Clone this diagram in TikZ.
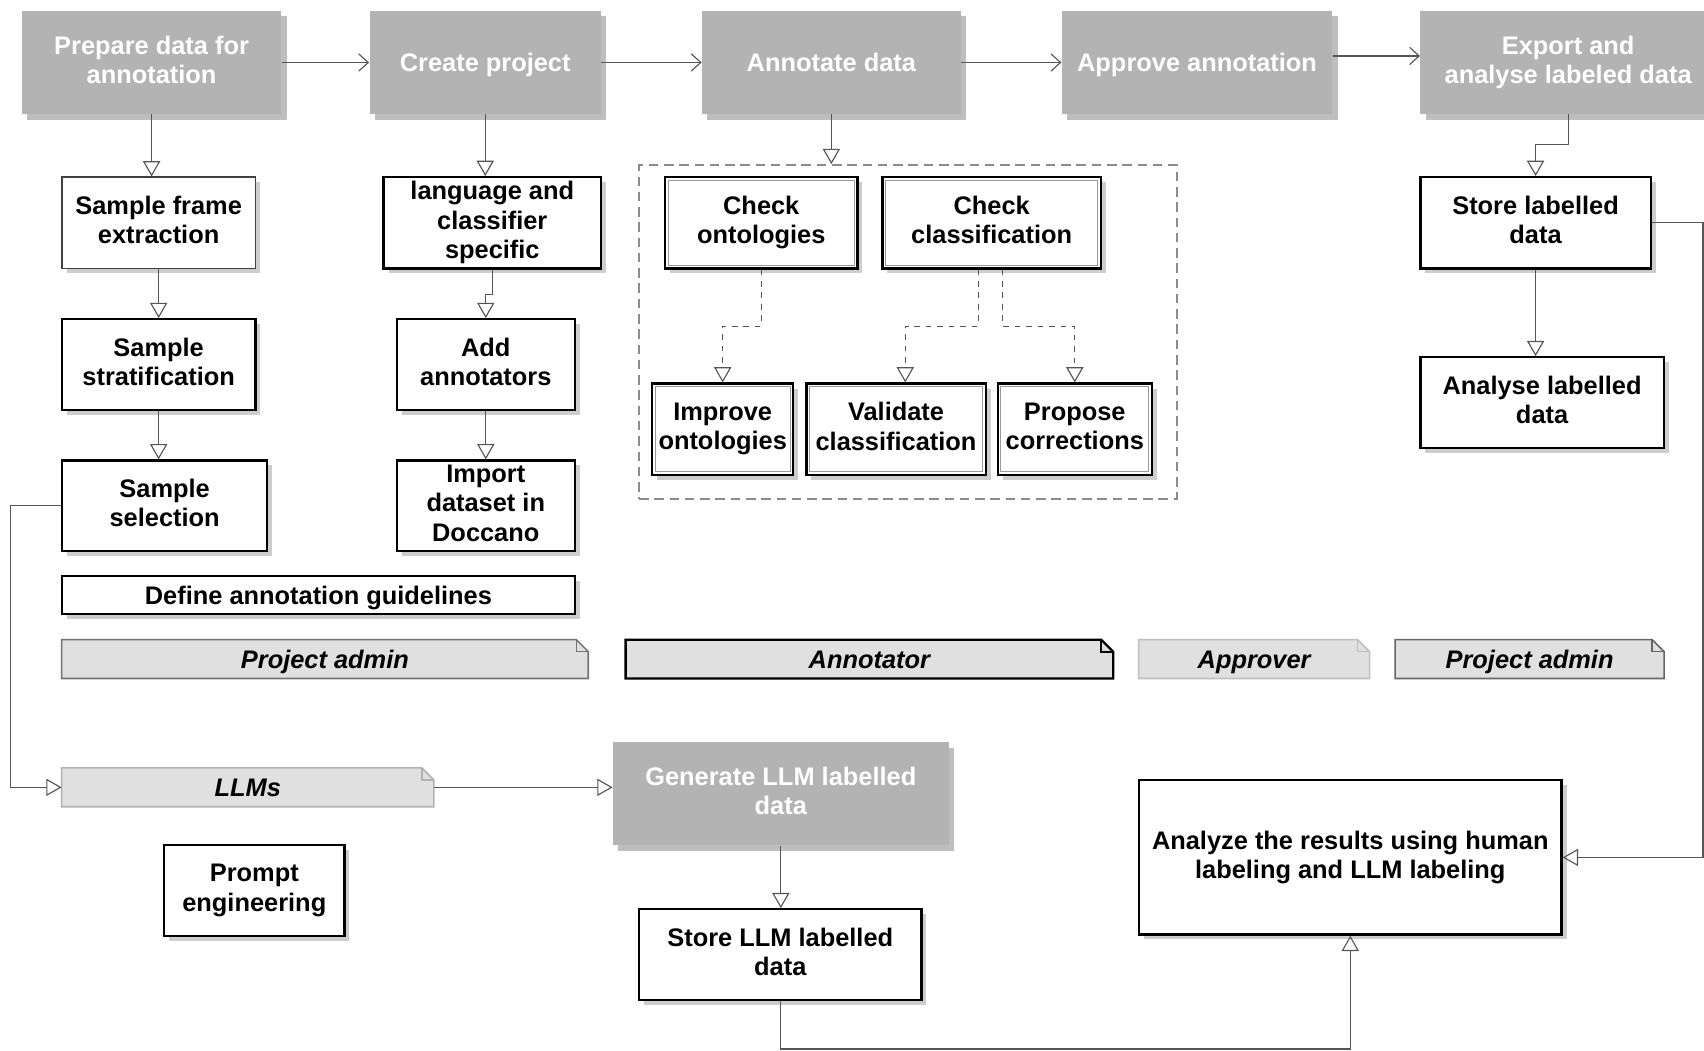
\documentclass[tikz,border=0pt]{standalone}
\usepackage{fontspec}
\setmainfont{Liberation Sans}
\usetikzlibrary{arrows.meta, shadows, backgrounds, calc}

\definecolor{stepgrey}{RGB}{179,179,179}
\definecolor{stepshade}{RGB}{190,190,190}
\definecolor{notegrey}{RGB}{224,224,224}
\definecolor{shadegrey}{RGB}{205,205,205}
\definecolor{linegrey}{RGB}{85,85,85}

\tikzset{
  base/.style={rectangle, align=center, inner sep=1pt, font=\fontsize{13.3}{15.4}\selectfont\bfseries,
    execute at begin node=\rule{0pt}{12.7pt}, execute at end node=\rule[-3pt]{0pt}{3pt}},
  stepbox/.style={base, fill=stepgrey, text=white, minimum height=1.9cm,
    drop shadow={shadow xshift=0.1cm, shadow yshift=-0.1cm, fill=stepshade, opacity=1}},
  taskbox/.style={base, fill=white, draw=black, line width=1.2pt, minimum height=1.67cm,
    drop shadow={shadow xshift=0.09cm, shadow yshift=-0.09cm, fill=shadegrey, opacity=1}},
  thinbox/.style={taskbox, draw=black!75, line width=0.7pt},
  notebox/.style={base, minimum height=0.7cm, font=\fontsize{13.3}{15.4}\selectfont\bfseries\itshape},
  grpbox/.style={rectangle, draw=black!45, line width=1.2pt, dash pattern=on 5pt off 3pt},
  flow/.style={draw=linegrey, line width=0.6pt, -{Straight Barb[length=5pt, width=9pt]}},
  tri/.style={draw=linegrey, line width=0.6pt, -{Triangle[open, length=8pt, width=9pt]}},
  dtri/.style={tri, dashed}
}

\begin{document}
\begin{tikzpicture}[x=0.02cm, y=-0.02cm]
\useasboundingbox (0,0) rectangle (1568,967);

% Main process steps
\node[stepbox, minimum width=4.78cm] (prep) at (139.5,57.5) {Prepare data for\\annotation};
\node[stepbox, minimum width=4.26cm] (create) at (446.5,57.5) {Create project};
\node[stepbox, minimum width=4.76cm] (annot) at (765,57.5) {Annotate data};
\node[stepbox, minimum width=4.98cm] (approve) at (1101.5,57.5) {Approve annotation};
\node[stepbox, minimum width=5.44cm] (export) at (1443,57.5) {Export and\\analyse labeled data};

% Prepare data
\node[thinbox, minimum width=3.56cm, minimum height=1.68cm] (sfe) at (146,205) {Sample frame\\extraction};
\node[taskbox, minimum width=3.56cm] (strat) at (146,335.5) {Sample\\stratification};
\node[taskbox, minimum width=3.78cm] (sel) at (151.5,465.5) {Sample\\selection};
\node[taskbox, minimum width=9.44cm, minimum height=0.7cm] (guide) at (293,547.5) {Define annotation guidelines};

% Create project
\node[taskbox, minimum width=4cm, minimum height=1.68cm] (lang) at (453,205) {language and\\classifier\\specific};
\node[taskbox, minimum width=3.28cm] (add) at (447,335.5) {Add\\annotators};
\node[taskbox, minimum width=3.28cm] (imp) at (447,465.5) {Import\\dataset in\\Doccano};

% Annotate data
\node[grpbox, minimum width=9.9cm, minimum height=6.14cm] (grp) at (835.5,305.5) {};
\node[taskbox, minimum width=3.54cm, minimum height=1.68cm] (chko) at (700.5,205) {Check\\ontologies};
\node[taskbox, minimum width=4.02cm, minimum height=1.68cm] (chkc) at (912.5,205) {Check\\classification};
\node[taskbox, minimum width=2.6cm, minimum height=1.68cm] (impr) at (665,395) {Improve\\ontologies};
\node[taskbox, minimum width=3.3cm, minimum height=1.68cm] (vali) at (824.5,395) {Validate\\classification};
\node[taskbox, minimum width=2.84cm, minimum height=1.68cm] (prop) at (989,395) {Propose\\corrections};

% Export and analyse
\node[taskbox, minimum width=4.24cm, minimum height=1.68cm] (store) at (1413,205) {Store labelled\\data};
\node[taskbox, minimum width=4.48cm] (anal) at (1419,370.5) {Analyse labelled\\data};

% Roles
\node[notebox, minimum width=9.68cm] (padm1) at (299,606.5) {Project admin};
\node[notebox, minimum width=8.96cm] (annr) at (800,606.5) {Annotator};
\node[notebox, minimum width=4.24cm] (appr) at (1154,606.5) {Approver};
\node[notebox, minimum width=4.94cm] (padm2) at (1407.5,606.5) {Project admin};
\node[notebox, minimum width=6.84cm] (llms) at (228,724.5) {LLMs};

% LLM labelling
\node[stepbox, minimum width=6.18cm] (gen) at (718.5,730.5) {Generate LLM labelled\\data};
\node[taskbox, minimum width=5.2cm] (slm) at (718,878.5) {Store LLM labelled\\data};
\node[taskbox, minimum width=3.32cm] (prompt) at (234,819.5) {Prompt\\engineering};
\node[taskbox, minimum width=7.78cm, minimum height=2.84cm] (cmp) at (1242.5,789) {Analyze the results using human\\labeling and LLM labeling};

% inner frames
\foreach \n in {chko,chkc,impr,vali,prop}
  \draw[black!40, line width=0.5pt] ([shift={(0.08cm,-0.08cm)}]\n.north west) rectangle ([shift={(-0.08cm,0.08cm)}]\n.south east);

% note outlines
\begin{scope}[on background layer]
\foreach \n/\c/\w in {padm1/black!55/0.8pt, annr/black/1.2pt, appr/black!25/0.8pt, padm2/black!60/0.8pt, llms/black!30/0.8pt} {
  \draw[draw=\c, line width=\w, fill=notegrey] (\n.south west) -- (\n.north west) -- ([xshift=-0.22cm]\n.north east)
    -- ([yshift=-0.22cm]\n.north east) -- (\n.south east) -- cycle;
  \draw[draw=\c, line width=\w] ([xshift=-0.22cm]\n.north east) |- ([yshift=-0.22cm]\n.north east);
}
\end{scope}

% Flow
\draw[flow] (prep) -- (create);
\draw[flow] (create) -- (annot);
\draw[flow] (annot) -- (approve);
\draw[flow] ($(approve.east)+(0,-6)$) -- ($(export.west)+(0,-6)$);

\draw[tri] (prep.south) -- (prep.south |- sfe.north);
\draw[tri] (sfe) -- (strat);
\draw[tri] (strat.south) -- (strat.south |- sel.north);
\draw[tri] (create.south) -- (create.south |- lang.north);
\draw[tri] (lang.south) -- ++(0,23) -| (add.north);
\draw[tri] (add) -- (imp);
\draw[tri] (annot.south) -- (annot.south |- grp.north);
\draw[dtri] (chko.south) -- ++(0,52) -| (impr.north);
\draw[dtri] ([xshift=-0.25cm]chkc.south) -- ++(0,52) -| ([xshift=0.17cm]vali.north);
\draw[dtri] ([xshift=0.2cm]chkc.south) -- ++(0,52) -| (prop.north);
\draw[tri] (export.south) -- ++(0,28) -| (store.north);
\draw[tri] (store.south) -- (store.south |- anal.north);
\draw[tri] (store.east) -- ++(47,0) |- (cmp.east);

\draw[tri] (sel.west) -- ++(-46,0) |- (llms.west);
\draw[tri] (llms.east) -- (llms.east -| gen.west);
\draw[tri] (gen.south) -- (gen.south |- slm.north);
\draw[tri] (slm.south) -- ++(0,44) -| (cmp.south);
\end{tikzpicture}
\end{document}
